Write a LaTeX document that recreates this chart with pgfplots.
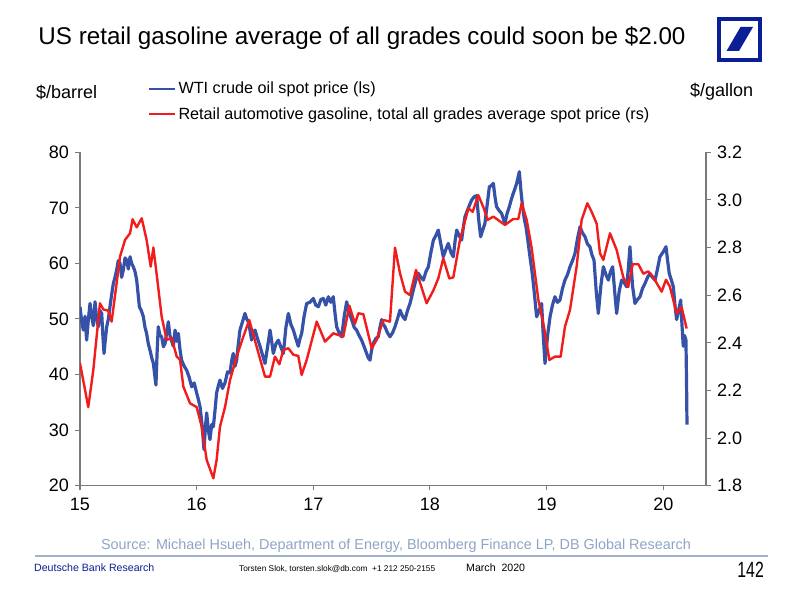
\documentclass[border=0pt]{standalone}
\usepackage{pgfplots}
\pgfplotsset{compat=1.18}
\usepackage{fontspec}
\setmainfont{Liberation Sans}
\definecolor{wti}{HTML}{3552A8}
\definecolor{gas}{HTML}{F21C1C}
\definecolor{dbblue}{HTML}{0A1E96}
\definecolor{src}{HTML}{8FA4C4}
\definecolor{axgray}{HTML}{7A7A7A}
\begin{document}
\begin{tikzpicture}[x=1pt,y=1pt]
\path[use as bounding box] (0,0) rectangle (800,594);
\pgfplotsset{
  common/.style={
    at={(80pt,108.3pt)}, anchor=south west, scale only axis,
    width=626pt, height=333.4pt,
    xmin=15, xmax=20.366,
    tick align=outside, major tick length=4.5pt,
    axis line style={axgray, line width=1.1pt, -},
    tick style={axgray, line width=1pt},
    ticklabel style={font=\fontsize{18}{18}\selectfont},
    /pgf/number format/assume math mode=true,
  }
}
\begin{axis}[common,
  ymin=20, ymax=80,
  axis x line*=bottom, axis y line*=left,
  xtick={15,16,17,18,19,20}, ytick={20,30,40,50,60,70,80},
  xticklabel style={yshift=-4pt},
  yticklabel style={xshift=-3pt},
]
\addplot[wti, line width=3.2pt, line join=round] coordinates {
(15.000,52.2)(15.015,49.5)(15.029,48.0)(15.043,50.5)(15.057,46.2)(15.072,50.0)(15.086,52.8)(15.100,50.5)(15.114,48.8)
(15.129,53.1)(15.143,50.0)(15.157,48.6)(15.172,51.5)(15.186,51.0)(15.196,47.0)(15.206,43.8)(15.218,46.5)(15.229,48.6)
(15.243,50.0)(15.257,52.2)(15.272,54.5)(15.286,56.4)(15.300,57.5)(15.314,58.8)(15.328,60.5)(15.343,60.0)
(15.357,57.5)(15.371,58.8)(15.386,61.0)(15.400,60.6)(15.414,59.0)(15.429,61.2)(15.443,60.0)(15.457,59.4)
(15.472,58.5)(15.486,57.0)(15.498,54.5)(15.509,52.2)(15.526,51.5)(15.543,50.4)(15.557,48.5)(15.571,47.4)
(15.586,45.5)(15.600,44.4)(15.615,43.0)(15.629,42.0)(15.640,40.0)(15.651,38.1)(15.661,44.0)(15.671,48.6)
(15.686,47.0)(15.700,46.8)(15.715,45.0)(15.729,45.6)(15.743,47.5)(15.757,49.5)(15.771,47.0)(15.786,46.0)
(15.800,45.1)(15.815,48.0)(15.829,46.0)(15.843,47.4)(15.857,44.5)(15.871,42.6)(15.893,41.5)(15.914,40.8)
(15.936,39.5)(15.957,37.8)(15.979,38.5)(16.000,36.7)(16.015,35.5)(16.029,34.2)(16.046,31.0)(16.063,26.5)
(16.075,30.5)(16.086,33.1)(16.100,30.0)(16.114,28.3)(16.129,31.0)(16.143,30.6)(16.157,33.5)(16.171,36.7)
(16.186,38.0)(16.200,39.0)(16.221,37.5)(16.243,38.5)(16.265,40.5)(16.286,40.3)(16.300,42.5)(16.314,43.8)
(16.329,41.5)(16.343,42.6)(16.357,45.5)(16.371,48.0)(16.393,49.5)(16.414,51.0)(16.429,50.0)(16.443,49.5)
(16.457,48.0)(16.471,46.2)(16.486,47.5)(16.500,48.0)(16.521,46.5)(16.543,45.1)(16.565,43.5)(16.586,42.0)
(16.608,45.0)(16.629,48.0)(16.643,46.0)(16.657,43.8)(16.679,45.5)(16.700,46.2)(16.721,45.0)(16.743,43.8)
(16.765,48.5)(16.786,51.0)(16.808,49.0)(16.829,48.0)(16.850,46.5)(16.871,45.1)(16.886,46.5)(16.900,47.4)
(16.921,50.5)(16.943,52.8)(16.971,53.0)(17.000,53.7)(17.021,52.5)(17.043,52.2)(17.065,53.5)(17.086,53.7)
(17.107,52.5)(17.129,54.0)(17.150,53.0)(17.171,54.0)(17.186,51.0)(17.200,48.6)(17.221,47.5)(17.243,46.8)
(17.265,50.5)(17.286,53.1)(17.307,51.0)(17.329,49.9)(17.350,48.5)(17.371,48.0)(17.393,47.0)(17.414,46.2)
(17.436,45.0)(17.457,43.8)(17.471,43.0)(17.486,42.6)(17.500,44.5)(17.514,45.6)(17.536,46.5)(17.557,46.8)
(17.571,48.5)(17.586,49.9)(17.600,49.0)(17.614,48.6)(17.636,47.5)(17.657,46.8)(17.679,47.5)(17.700,48.6)
(17.721,50.0)(17.743,51.6)(17.765,50.5)(17.786,49.9)(17.807,51.5)(17.829,52.8)(17.843,54.0)(17.857,55.2)
(17.879,57.0)(17.900,58.2)(17.922,57.5)(17.943,57.0)(17.965,58.5)(17.986,59.4)(18.008,62.0)(18.029,64.2)
(18.050,65.0)(18.071,66.0)(18.093,63.5)(18.114,61.2)(18.136,62.5)(18.157,63.6)(18.179,62.0)(18.200,61.2)
(18.215,64.0)(18.229,66.0)(18.250,65.0)(18.271,64.2)(18.286,66.5)(18.300,68.4)(18.329,70.0)(18.357,71.4)
(18.379,72.0)(18.400,72.2)(18.417,68.0)(18.434,64.8)(18.452,66.0)(18.471,67.2)(18.490,70.5)(18.509,73.8)
(18.526,74.0)(18.543,74.4)(18.557,72.0)(18.571,70.2)(18.593,69.5)(18.614,69.0)(18.629,68.0)(18.643,67.2)
(18.661,69.0)(18.680,70.2)(18.697,71.5)(18.714,72.6)(18.729,73.5)(18.743,74.4)(18.755,75.5)(18.766,76.5)
(18.780,73.0)(18.794,70.2)(18.808,68.0)(18.823,66.6)(18.840,64.0)(18.857,61.2)(18.872,59.0)(18.886,56.4)
(18.900,53.5)(18.914,50.4)(18.936,51.5)(18.957,52.8)(18.971,47.0)(18.986,42.0)(19.008,47.0)(19.029,50.4)
(19.050,52.5)(19.071,54.0)(19.093,53.0)(19.114,53.4)(19.136,55.5)(19.157,57.0)(19.179,58.0)(19.200,59.4)
(19.222,60.5)(19.243,61.8)(19.265,64.5)(19.286,66.6)(19.307,65.5)(19.329,64.8)(19.350,63.5)(19.371,63.0)
(19.389,61.5)(19.406,60.6)(19.425,55.0)(19.443,51.0)(19.465,56.0)(19.486,59.4)(19.508,58.0)(19.529,57.0)
(19.547,58.5)(19.566,59.4)(19.583,55.0)(19.600,51.0)(19.622,55.0)(19.643,57.0)(19.665,56.5)(19.686,55.8)
(19.700,59.0)(19.714,63.0)(19.736,56.0)(19.757,52.8)(19.779,53.5)(19.800,54.0)(19.822,55.5)(19.843,56.4)
(19.865,57.5)(19.886,58.2)(19.907,57.5)(19.929,57.0)(19.950,59.0)(19.971,61.2)(19.997,62.0)(20.023,63.0)
(20.037,60.5)(20.051,58.2)(20.069,57.0)(20.086,55.8)(20.100,52.5)(20.114,49.9)(20.131,51.5)(20.149,53.4)
(20.160,49.0)(20.171,45.1)(20.183,47.0)(20.194,46.2)(20.199,39.0)(20.203,31.0)
};
\end{axis}
\begin{axis}[common,
  ymin=1.8, ymax=3.2,
  axis x line=none, axis y line*=right,
  ytick={1.8,2.0,2.2,2.4,2.6,2.8,3.0,3.2},
  yticklabel style={xshift=3pt, /pgf/number format/.cd, fixed, fixed zerofill, precision=1},
  legend style={draw=none, fill=none, at={(0.1085,1.214)}, anchor=north west,
    font=\fontsize{16.2}{16.2}\selectfont, row sep=10pt, inner sep=0pt,
    nodes={inner xsep=2pt, inner ysep=1pt}},
  legend cell align=left,
  legend image code/.code={\draw[#1] (0pt,0pt) -- (26pt,0pt);},
]
\addlegendimage{wti, line width=2.4pt}
\addlegendentry{WTI crude oil spot price (ls)}
\addplot[gas, line width=2.4pt, line join=round] coordinates {
(15.000,2.314)(15.071,2.13)(15.114,2.286)(15.171,2.566)(15.200,2.54)(15.243,2.535)(15.271,2.489)(15.314,2.65)
(15.343,2.762)(15.386,2.832)(15.429,2.86)(15.451,2.919)(15.486,2.885)(15.529,2.923)(15.571,2.832)(15.606,2.72)
(15.629,2.80)(15.663,2.664)(15.700,2.51)(15.743,2.412)(15.786,2.42)(15.829,2.342)(15.857,2.33)(15.886,2.216)
(15.943,2.146)(16.000,2.13)(16.043,2.048)(16.086,1.908)(16.143,1.831)(16.171,1.908)(16.200,2.048)(16.243,2.13)
(16.286,2.244)(16.343,2.342)(16.400,2.426)(16.451,2.496)(16.514,2.384)(16.586,2.258)(16.629,2.258)(16.671,2.342)
(16.709,2.31)(16.743,2.37)(16.786,2.377)(16.829,2.35)(16.871,2.345)(16.900,2.265)(16.943,2.328)(17.029,2.489)
(17.100,2.405)(17.171,2.44)(17.257,2.426)(17.309,2.556)(17.357,2.48)(17.386,2.524)(17.429,2.52)(17.500,2.377)
(17.543,2.412)(17.600,2.496)(17.657,2.489)(17.700,2.80)(17.743,2.692)(17.786,2.615)(17.829,2.60)(17.880,2.706)
(17.971,2.566)(18.029,2.62)(18.071,2.67)(18.114,2.755)(18.166,2.67)(18.200,2.675)(18.257,2.832)(18.329,2.965)
(18.366,2.95)(18.414,3.02)(18.457,2.97)(18.494,2.916)(18.543,2.93)(18.600,2.91)(18.643,2.895)(18.714,2.92)
(18.757,2.92)(18.786,2.986)(18.829,2.916)(18.871,2.80)(18.929,2.58)(18.977,2.468)(19.023,2.328)(19.071,2.342)
(19.120,2.342)(19.157,2.468)(19.200,2.538)(19.257,2.72)(19.300,2.916)(19.349,2.986)(19.386,2.95)(19.429,2.90)
(19.457,2.776)(19.486,2.748)(19.543,2.86)(19.600,2.79)(19.657,2.675)(19.700,2.635)(19.737,2.73)(19.786,2.73)
(19.829,2.69)(19.871,2.70)(19.914,2.675)(19.986,2.615)(20.023,2.665)(20.057,2.635)(20.114,2.524)(20.157,2.55)
(20.200,2.46)
};
\addlegendentry{Retail automotive gasoline, total all grades average spot price (rs)}
\end{axis}
% titles and page furniture
\node[font=\fontsize{24.2}{24.2}\selectfont, anchor=center] at (362,556) {US retail gasoline average of all grades could soon be \$2.00};
\node[font=\fontsize{18}{18}\selectfont, anchor=west, inner sep=0pt] at (36,502) {\$/barrel};
\node[font=\fontsize{18}{18}\selectfont, anchor=west, inner sep=0pt] at (690,502) {\$/gallon};
% logo
\draw[dbblue, line width=4pt] (719,575) rectangle (760,534);
\fill[dbblue] (726.5,543) -- (739,543) -- (753,567) -- (740.5,567) -- cycle;
% footer
\node[font=\fontsize{14.4}{14.4}\selectfont, text=src, anchor=center] at (396,48) {Source: Michael Hsueh, Department of Energy, Bloomberg Finance LP, DB Global Research};
\draw[src!85, line width=1.6pt] (35,38) -- (768,38);
\node[font=\fontsize{10.6}{10.6}\selectfont, text=dbblue, anchor=west, inner sep=0pt] at (34,26) {Deutsche Bank Research};
\node[font=\fontsize{8.3}{8.3}\selectfont, anchor=west, inner sep=0pt] at (239,25) {Torsten Slok, torsten.slok@db.com \ +1 212 250-2155};
\node[font=\fontsize{10.6}{10.6}\selectfont, anchor=west, inner sep=0pt] at (466,26) {March \ 2020};
\node[font=\fontsize{22}{22}\selectfont, anchor=east, inner sep=0pt, xscale=0.72] at (764,24) {142};
\end{tikzpicture}
\end{document}
